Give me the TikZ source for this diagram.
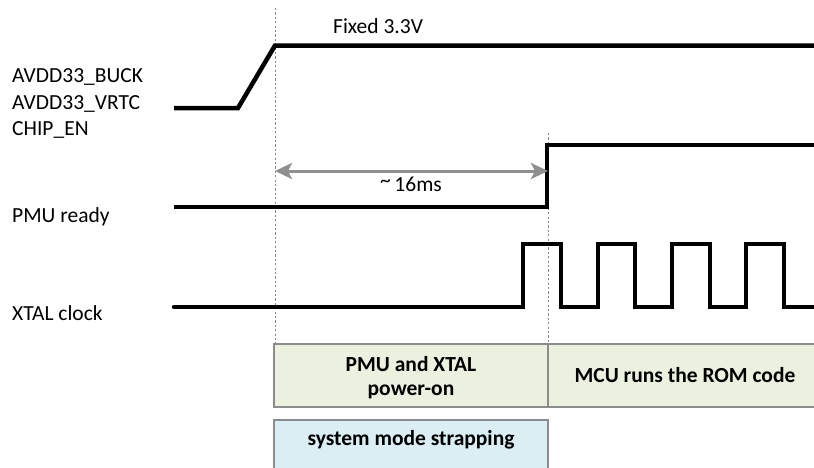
\documentclass[tikz,border=0pt]{standalone}
\usepackage{fontspec}
\setmainfont{Carlito}
\usetikzlibrary{arrows.meta}
\definecolor{boxgreen}{HTML}{EBF1DE}
\definecolor{boxblue}{HTML}{DAEEF3}
\definecolor{boxborder}{HTML}{8C8C8C}
\definecolor{arrowgray}{HTML}{8F8F8F}
\definecolor{guidegray}{HTML}{858585}
\tikzset{
  sig/.style={line width=4.5pt, line join=miter, black},
  guide/.style={guidegray, line width=1pt, dash pattern=on 2.2pt off 2.2pt},
  lbl/.style={anchor=base west, inner sep=0pt, font=\fontsize{21.5}{25}\selectfont},
  btxt/.style={anchor=base, inner sep=0pt, font=\fontsize{21.5}{25}\selectfont\bfseries},
  phasebox/.style={draw=boxborder, line width=1.3pt, inner sep=0pt},
  dimarrow/.style={arrowgray, line width=3pt, {Stealth[length=17pt,width=16pt,inset=4pt]}-{Stealth[length=17pt,width=16pt,inset=4pt]}}
}
\begin{document}
\begin{tikzpicture}[x=1pt,y=-1pt]
\useasboundingbox (0,0) rectangle (814,467);

% phase boxes
\node[phasebox, fill=boxgreen, minimum width=274pt, minimum height=63pt] (pmubox) at (411,375.5) {};
\node[phasebox, fill=boxgreen, minimum width=290pt, minimum height=63pt] (mcubox) at (693,375.5) {};
\node[phasebox, fill=boxblue, minimum width=274pt, minimum height=60pt] (strapbox) at (411,450) {};
\node[btxt] (pmutxt1) at (411,371) {PMU and XTAL};
\node[btxt] (pmutxt2) at (411,395) {power-on};
\node[btxt] (mcutxt) at (685,382) {MCU runs the ROM code};
\node[btxt] (straptxt) at (411,445) {system mode strapping};

% guide lines
\coordinate (g1top) at (275,8);
\coordinate (g1bot) at (275,344);
\coordinate (g2top) at (548,133);
\coordinate (g2bot) at (548,344);
\draw[guide] (g1top) -- (g1bot);
\draw[guide] (g2top) -- (g2bot);

% labels
\node[lbl] (l1) at (12,82) {AVDD33\_BUCK};
\node[lbl] (l2) at (12,109.5) {AVDD33\_VRTC};
\node[lbl] (l3) at (12,135) {CHIP\_EN};
\node[lbl] (l4) at (12,222) {PMU ready};
\node[lbl] (l5) at (12,320) {XTAL clock};
\node[lbl] (fixed) at (333,33) {Fixed 3.3V};
\node[lbl] (ms) at (380,191) {\raisebox{3.5pt}{\char"007E}\,16ms};

% signals
\draw[sig] (174,108) -- (238,108) -- (275,45.5) -- (816,45.5);
\draw[sig] (174,207) -- (547,207) -- (547,145) -- (816,145);
\draw[sig, line cap=round] (174,307) -- (523,307) -- (523,244) -- (561,244) -- (561,307)
  -- (598,307) -- (598,244) -- (635,244) -- (635,307)
  -- (672,307) -- (672,244) -- (710,244) -- (710,307)
  -- (746,307) -- (746,244) -- (784,244) -- (784,307) -- (816,307);

% delay arrow
\coordinate (a1) at (275,171);
\coordinate (a2) at (548,171);
\draw[dimarrow] (a1) -- (a2);
\end{tikzpicture}
\end{document}
